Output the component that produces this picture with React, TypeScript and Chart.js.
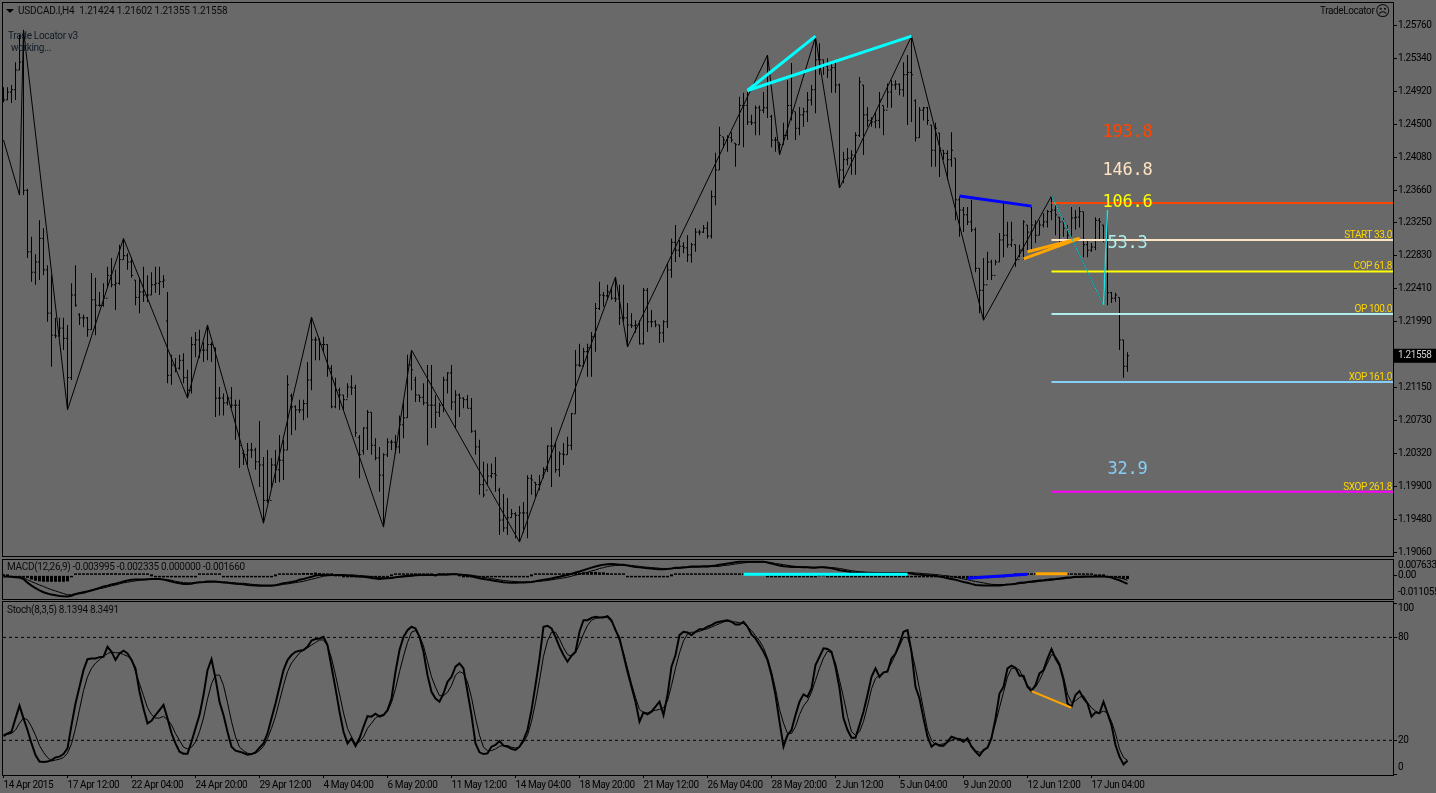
import { useEffect, useRef } from "react";
import { Chart, registerables } from "chart.js";

Chart.register(...registerables);

const highs = [
  1.2497,1.2497,1.2500,1.2529,1.2564,1.2570,1.2368,1.2307,1.2285,1.2328,
  1.2318,1.2271,1.2258,1.2204,1.2204,1.2204,1.2195,1.2248,1.2271,1.2210,
  1.2208,1.2205,1.2261,1.2255,1.2237,1.2248,1.2269,1.2280,1.2265,1.2297,
  1.2305,1.2286,1.2281,1.2252,1.2255,1.2269,1.2258,1.2262,1.2269,1.2269,
  1.2258,1.2237,1.2157,1.2153,1.2157,1.2159,1.2138,1.2180,1.2186,1.2189,
  1.2173,1.2195,1.2173,1.2166,1.2116,1.2108,1.2106,1.2116,1.2100,1.2100,
  1.2036,1.2045,1.2045,1.2039,1.2073,1.2027,1.2036,1.2026,1.2036,1.2055,
  1.2049,1.2131,1.2108,1.2093,1.2100,1.2100,1.2148,1.2204,1.2180,1.2178,
  1.2180,1.2170,1.2144,1.2128,1.2115,1.2106,1.2121,1.2131,1.2119,1.2055,
  1.2065,1.2087,1.2084,1.2051,1.2040,1.2032,1.2051,1.2049,1.2055,1.2080,
  1.2096,1.2157,1.2163,1.2129,1.2106,1.2121,1.2144,1.2144,1.2106,1.2096,
  1.2129,1.2135,1.2144,1.2112,1.2108,1.2103,1.2106,1.2102,1.2061,1.2049,
  1.2021,1.2019,1.2019,1.2027,1.1988,1.1980,1.1975,1.1961,1.1957,1.1965,
  1.1970,1.2004,1.2005,1.1995,1.2004,1.2014,1.2042,1.2065,1.2045,1.2034,
  1.2045,1.2053,1.2083,1.2163,1.2171,1.2166,1.2171,1.2186,1.2223,1.2250,
  1.2237,1.2246,1.2243,1.2256,1.2246,1.2246,1.2223,1.2210,1.2201,1.2201,
  1.2242,1.2242,1.2214,1.2201,1.2195,1.2201,1.2274,1.2305,1.2322,1.2303,
  1.2300,1.2309,1.2299,1.2318,1.2316,1.2322,1.2326,1.2366,1.2414,1.2447,
  1.2434,1.2436,1.2440,1.2426,1.2485,1.2490,1.2491,1.2462,1.2474,1.2474,
  1.2491,1.2538,1.2462,1.2434,1.2427,1.2452,1.2506,1.2528,1.2466,1.2472,
  1.2471,1.2491,1.2500,1.2561,1.2553,1.2532,1.2534,1.2528,1.2529,1.2502,
  1.2415,1.2420,1.2417,1.2440,1.2510,1.2500,1.2472,1.2459,1.2466,1.2491,
  1.2474,1.2502,1.2506,1.2506,1.2502,1.2529,1.2538,1.2562,1.2482,1.2472,
  1.2472,1.2472,1.2449,1.2452,1.2439,1.2417,1.2417,1.2440,1.2407,1.2358,
  1.2345,1.2345,1.2354,1.2319,1.2267,1.2280,1.2288,1.2278,1.2278,1.2312,
  1.2350,1.2326,1.2326,1.2297,1.2297,1.2328,1.2322,1.2345,1.2328,1.2328,
  1.2337,1.2341,1.2359,1.2350,1.2332,1.2331,1.2322,1.2345,1.2341,1.2345,
  1.2339,1.2303,1.2299,1.2332,1.2331,1.2322,1.2341,1.2237,1.2236,1.2230,
  1.2176,1.21602,
];
const lows = [
  1.2478,1.2481,1.2477,1.2481,1.2519,1.2360,1.2280,1.2250,1.2246,1.2252,
  1.2258,1.2199,1.2142,1.2178,1.2180,1.2163,1.2087,1.2125,1.2218,1.2195,
  1.2192,1.2180,1.2189,1.2182,1.2218,1.2218,1.2242,1.2243,1.2214,1.2246,
  1.2278,1.2265,1.2255,1.2220,1.2210,1.2224,1.2224,1.2233,1.2236,1.2233,
  1.2242,1.2121,1.2119,1.2135,1.2138,1.2121,1.2102,1.2108,1.2154,1.2153,
  1.2148,1.2150,1.2148,1.2078,1.2080,1.2080,1.2093,1.2089,1.2049,1.2013,
  1.2017,1.2017,1.2026,1.2011,1.1989,1.1943,1.1969,1.1988,1.1994,1.1995,
  1.1998,1.2036,1.2055,1.2061,1.2083,1.2074,1.2077,1.2112,1.2150,1.2150,
  1.2161,1.2129,1.2089,1.2089,1.2087,1.2087,1.2102,1.2106,1.2053,1.2000,
  1.2030,1.2036,1.2030,1.2023,1.1983,1.1941,1.2027,1.2036,1.2032,1.2032,
  1.2051,1.2077,1.2112,1.2097,1.2097,1.2093,1.2042,1.2064,1.2064,1.2078,
  1.2084,1.2108,1.2087,1.2064,1.2078,1.2089,1.2089,1.2058,1.2030,1.1979,
  1.1976,1.1992,1.2000,1.1983,1.1928,1.1932,1.1928,1.1950,1.1924,1.1919,
  1.1931,1.1924,1.1979,1.1976,1.1985,1.2000,1.2008,1.1989,1.2007,1.2002,
  1.2017,1.2030,1.2036,1.2082,1.2142,1.2142,1.2129,1.2129,1.2161,1.2214,
  1.2218,1.2227,1.2227,1.2224,1.2195,1.2199,1.2167,1.2191,1.2185,1.2170,
  1.2170,1.2186,1.2192,1.2192,1.2172,1.2173,1.2191,1.2255,1.2275,1.2281,
  1.2286,1.2275,1.2274,1.2288,1.2309,1.2312,1.2305,1.2305,1.2347,1.2392,
  1.2420,1.2415,1.2427,1.2396,1.2424,1.2421,1.2449,1.2449,1.2436,1.2436,
  1.2464,1.2458,1.2421,1.2415,1.2411,1.2424,1.2430,1.2455,1.2430,1.2436,
  1.2447,1.2453,1.2474,1.2464,1.2513,1.2513,1.2509,1.2490,1.2490,1.2369,
  1.2375,1.2398,1.2386,1.2386,1.2434,1.2411,1.2447,1.2447,1.2445,1.2445,
  1.2436,1.2471,1.2471,1.2494,1.2487,1.2485,1.2449,1.2453,1.2428,1.2433,
  1.2455,1.2449,1.2396,1.2396,1.2383,1.2405,1.2379,1.2396,1.2328,1.2307,
  1.2313,1.2322,1.2313,1.2262,1.2210,1.2201,1.2252,1.2252,1.2271,1.2275,
  1.2281,1.2293,1.2294,1.2269,1.2281,1.2278,1.2290,1.2290,1.2299,1.2309,
  1.2319,1.2319,1.2328,1.2309,1.2294,1.2307,1.2300,1.2300,1.2316,1.2319,
  1.2281,1.2281,1.2288,1.2290,1.2303,1.2300,1.2220,1.2223,1.2224,1.2163,
  1.2128,1.21355,
];
const closes = [
  1.2481,1.2491,1.2494,1.2519,1.2529,1.2366,1.2288,1.2262,1.2275,1.2305,
  1.2265,1.2210,1.2182,1.2181,1.2191,1.2178,1.2128,1.2233,1.2220,1.2204,
  1.2204,1.2189,1.2227,1.2220,1.2220,1.2229,1.2258,1.2246,1.2248,1.2278,
  1.2283,1.2275,1.2258,1.2230,1.2237,1.2233,1.2233,1.2246,1.2248,1.2250,
  1.2252,1.2131,1.2144,1.2140,1.2150,1.2128,1.2112,1.2170,1.2176,1.2163,
  1.2163,1.2170,1.2170,1.2102,1.2102,1.2096,1.2102,1.2093,1.2093,1.2042,
  1.2030,1.2036,1.2036,1.2021,1.2017,1.1972,1.1972,1.2017,1.2011,1.2023,
  1.2036,1.2119,1.2091,1.2087,1.2087,1.2095,1.2125,1.2176,1.2176,1.2170,
  1.2170,1.2140,1.2091,1.2112,1.2106,1.2100,1.2116,1.2115,1.2058,1.2030,
  1.2064,1.2084,1.2042,1.2026,1.2004,1.2030,1.2046,1.2046,1.2040,1.2068,
  1.2077,1.2144,1.2138,1.2106,1.2103,1.2096,1.2093,1.2093,1.2084,1.2093,
  1.2125,1.2134,1.2097,1.2106,1.2102,1.2100,1.2089,1.2060,1.2040,1.1992,
  1.1979,1.2003,1.2006,1.2004,1.1947,1.1937,1.1950,1.1955,1.1953,1.1956,
  1.1956,1.2000,1.1998,1.1992,1.1995,1.2011,1.2041,1.2041,1.2011,1.2031,
  1.2030,1.2042,1.2082,1.2144,1.2143,1.2161,1.2166,1.2180,1.2216,1.2233,
  1.2232,1.2237,1.2229,1.2228,1.2204,1.2204,1.2195,1.2194,1.2195,1.2171,
  1.2239,1.2199,1.2199,1.2195,1.2185,1.2199,1.2265,1.2300,1.2290,1.2295,
  1.2293,1.2284,1.2297,1.2313,1.2313,1.2318,1.2308,1.2358,1.2392,1.2436,
  1.2430,1.2433,1.2430,1.2424,1.2474,1.2474,1.2453,1.2452,1.2471,1.2468,
  1.2471,1.2513,1.2430,1.2430,1.2424,1.2436,1.2474,1.2468,1.2445,1.2462,
  1.2466,1.2481,1.2494,1.2532,1.2532,1.2524,1.2519,1.2522,1.2500,1.2392,
  1.2405,1.2407,1.2411,1.2436,1.2504,1.2462,1.2455,1.2453,1.2455,1.2481,
  1.2468,1.2491,1.2500,1.2501,1.2494,1.2513,1.2516,1.2513,1.2433,1.2468,
  1.2471,1.2455,1.2417,1.2445,1.2420,1.2413,1.2405,1.2417,1.2354,1.2341,
  1.2335,1.2326,1.2316,1.2267,1.2239,1.2246,1.2275,1.2258,1.2275,1.2303,
  1.2309,1.2297,1.2303,1.2278,1.2290,1.2326,1.2313,1.2322,1.2309,1.2322,
  1.2326,1.2339,1.2341,1.2335,1.2326,1.2318,1.2309,1.2331,1.2332,1.2339,
  1.2297,1.2290,1.2294,1.2328,1.2326,1.2303,1.2236,1.2229,1.2233,1.2176,
  1.21424,1.21558,
];
const opens = [
  1.2490,1.2481,1.2491,1.2494,1.2519,1.2529,1.2366,1.2288,1.2262,1.2275,
  1.2305,1.2265,1.2210,1.2182,1.2181,1.2191,1.2178,1.2128,1.2233,1.2208,
  1.2204,1.2204,1.2189,1.2227,1.2220,1.2220,1.2229,1.2258,1.2246,1.2248,
  1.2278,1.2283,1.2275,1.2252,1.2230,1.2237,1.2233,1.2233,1.2246,1.2248,
  1.2250,1.2200,1.2131,1.2144,1.2140,1.2150,1.2128,1.2112,1.2170,1.2176,
  1.2163,1.2163,1.2170,1.2166,1.2102,1.2102,1.2096,1.2102,1.2093,1.2093,
  1.2032,1.2030,1.2036,1.2036,1.2021,1.2017,1.1972,1.1972,1.2017,1.2011,
  1.2023,1.2036,1.2105,1.2091,1.2087,1.2087,1.2095,1.2125,1.2176,1.2176,
  1.2170,1.2170,1.2140,1.2091,1.2112,1.2106,1.2100,1.2116,1.2115,1.2052,
  1.2035,1.2064,1.2084,1.2042,1.2026,1.2004,1.2030,1.2046,1.2046,1.2040,
  1.2068,1.2077,1.2144,1.2125,1.2106,1.2103,1.2096,1.2093,1.2093,1.2084,
  1.2093,1.2125,1.2134,1.2097,1.2106,1.2102,1.2100,1.2089,1.2060,1.2040,
  1.1992,1.1985,1.2003,1.2006,1.1985,1.1947,1.1937,1.1950,1.1955,1.1953,
  1.1956,1.1956,1.2000,1.1995,1.1992,1.2004,1.2011,1.2041,1.2041,1.2011,
  1.2031,1.2030,1.2042,1.2082,1.2144,1.2143,1.2161,1.2166,1.2180,1.2216,
  1.2233,1.2232,1.2237,1.2229,1.2228,1.2204,1.2204,1.2195,1.2194,1.2195,
  1.2171,1.2239,1.2199,1.2199,1.2195,1.2185,1.2199,1.2265,1.2300,1.2290,
  1.2295,1.2293,1.2284,1.2297,1.2313,1.2313,1.2318,1.2308,1.2358,1.2392,
  1.2434,1.2430,1.2433,1.2426,1.2424,1.2474,1.2474,1.2453,1.2452,1.2471,
  1.2468,1.2471,1.2460,1.2430,1.2427,1.2424,1.2436,1.2474,1.2466,1.2445,
  1.2462,1.2466,1.2481,1.2494,1.2532,1.2532,1.2524,1.2519,1.2522,1.2500,
  1.2392,1.2405,1.2407,1.2411,1.2436,1.2500,1.2462,1.2455,1.2453,1.2455,
  1.2474,1.2468,1.2491,1.2500,1.2501,1.2494,1.2513,1.2516,1.2480,1.2433,
  1.2468,1.2471,1.2449,1.2417,1.2439,1.2417,1.2413,1.2405,1.2407,1.2354,
  1.2341,1.2335,1.2326,1.2316,1.2267,1.2239,1.2246,1.2275,1.2258,1.2275,
  1.2303,1.2309,1.2297,1.2297,1.2278,1.2290,1.2322,1.2313,1.2322,1.2309,
  1.2322,1.2326,1.2339,1.2341,1.2332,1.2326,1.2318,1.2309,1.2331,1.2332,
  1.2339,1.2297,1.2290,1.2294,1.2328,1.2322,1.2303,1.2236,1.2229,1.2230,
  1.2176,1.21424,
];

const zigzagX = [0,4,5,16,30,46,51,65,77,95,102,129,153,156,191,194,203,209,227,245,262,275,276];
const zigzagY = [1.2430,1.2360,1.2570,1.2087,1.2305,1.2102,1.2195,1.1943,1.2205,1.1938,1.2163,1.1919,1.2256,1.2167,1.2538,1.2411,1.2561,1.2369,1.2562,1.2201,1.2359,1.2220,1.2341];

const priceTicks = [1.2576,1.2534,1.2492,1.245,1.2408,1.2366,1.2325,1.2283,1.2241,1.2199,1.21558,1.2115,1.2073,1.2032,1.199,1.1948,1.1906];
const lastClose = 1.21558;

const fibNames = ["", "START 33.0", "COP 61.8", "OP 100.0", "XOP 161.0", "SXOP 261.8"];
const fibPrices = [1.2350,1.2303,1.2263,1.2209,1.21225,1.1983];
const fibColors = ["#FF4500","#FFE4C4","#FFFF00","#AFEEEE","#87CEFA","#FF00FF"];
const bigLabels = ["193.8","146.8","106.6","53.3","32.9"];
const bigPrices = [1.2439,1.2391,1.2351,1.2298,1.2011];
const bigColors = ["#FF4500","#FFE4C4","#FFFF00","#AFEEEE","#87CEFA"];

const macdMain = [
  -.0006,-.0006,-.0007,-.0009,-.0010,-.0017,-.0034,-.0048,-.0060,-.0070,
  -.0079,-.0085,-.0090,-.0093,-.0096,-.0098,-.0099,-.0095,-.0088,-.0084,
  -.0081,-.0076,-.0071,-.0065,-.0059,-.0052,-.0048,-.0043,-.0039,-.0034,
  -.0029,-.0024,-.0021,-.0020,-.0020,-.0020,-.0018,-.0017,-.0017,-.0017,
  -.0020,-.0024,-.0029,-.0034,-.0037,-.0040,-.0040,-.0039,-.0035,-.0032,
  -.0031,-.0029,-.0029,-.0029,-.0031,-.0034,-.0035,-.0037,-.0039,-.0040,
  -.0042,-.0045,-.0046,-.0048,-.0049,-.0049,-.0049,-.0049,-.0046,-.0042,
  -.0037,-.0034,-.0031,-.0028,-.0021,-.0017,-.0012,-.0007,-.0001,.0002,
  .0002,.0002,.0002,.0001,.0001,.0001,-.0001,-.0002,-.0004,-.0006,
  -.0007,-.0009,-.0012,-.0015,-.0017,-.0015,-.0014,-.0012,-.0009,-.0006,
  -.0004,-.0002,-.0001,.0001,.0001,.0002,.0002,.0002,.0002,.0004,
  .0004,.0004,.0005,.0005,.0004,.0002,-.0001,-.0004,-.0009,-.0014,
  -.0017,-.0020,-.0023,-.0026,-.0029,-.0032,-.0034,-.0035,-.0035,-.0034,
  -.0034,-.0032,-.0031,-.0028,-.0024,-.0021,-.0018,-.0015,-.0010,-.0007,
  -.0002,.0002,.0007,.0013,.0018,.0024,.0030,.0036,.0041,.0046,
  .0050,.0052,.0053,.0052,.0050,.0049,.0046,.0042,.0039,.0038,
  .0035,.0033,.0032,.0030,.0029,.0029,.0030,.0032,.0035,.0036,
  .0038,.0039,.0041,.0041,.0041,.0042,.0042,.0044,.0046,.0049,
  .0052,.0055,.0058,.0061,.0063,.0064,.0064,.0064,.0064,.0064,
  .0064,.0060,.0055,.0050,.0046,.0042,.0041,.0039,.0039,.0039,
  .0038,.0038,.0036,.0036,.0038,.0038,.0036,.0033,.0029,.0024,
  .0021,.0018,.0014,.0013,.0011,.0011,.0010,.0010,.0010,.0010,
  .0010,.0010,.0010,.0010,.0010,.0011,.0011,.0008,.0005,.0004,
  .0002,.0001,-.0001,-.0002,-.0006,-.0009,-.0014,-.0017,-.0021,-.0026,
  -.0031,-.0035,-.0040,-.0045,-.0046,-.0048,-.0048,-.0048,-.0048,-.0048,
  -.0045,-.0043,-.0042,-.0039,-.0035,-.0034,-.0031,-.0029,-.0026,-.0024,
  -.0023,-.0020,-.0018,-.0017,-.0015,-.0012,-.0010,-.0009,-.0007,-.0007,
  -.0006,-.0006,-.0006,-.0006,-.0006,-.0006,-.0007,-.0010,-.0017,-.0023,
  -.0032,-.0040,
];
const macdSignal = [
  -.0006,-.0006,-.0006,-.0006,-.0006,-.0010,-.0021,-.0029,-.0037,-.0045,
  -.0052,-.0060,-.0067,-.0073,-.0079,-.0085,-.0091,-.0090,-.0085,-.0081,
  -.0076,-.0073,-.0068,-.0065,-.0062,-.0059,-.0054,-.0049,-.0045,-.0040,
  -.0035,-.0032,-.0029,-.0026,-.0023,-.0021,-.0020,-.0018,-.0017,-.0017,
  -.0018,-.0020,-.0023,-.0028,-.0031,-.0034,-.0035,-.0035,-.0035,-.0034,
  -.0034,-.0032,-.0032,-.0031,-.0031,-.0031,-.0032,-.0034,-.0035,-.0037,
  -.0037,-.0039,-.0042,-.0043,-.0045,-.0046,-.0046,-.0046,-.0046,-.0045,
  -.0042,-.0040,-.0037,-.0034,-.0031,-.0028,-.0023,-.0018,-.0014,-.0009,
  -.0004,-.0002,-.0001,.0001,.0001,.0002,.0002,.0002,.0001,-.0001,
  -.0002,-.0004,-.0006,-.0009,-.0010,-.0012,-.0012,-.0012,-.0010,-.0009,
  -.0007,-.0006,-.0004,-.0002,-.0001,-.0001,.0001,.0001,.0002,.0002,
  .0002,.0002,.0004,.0004,.0004,.0004,.0002,.0001,-.0002,-.0006,
  -.0009,-.0012,-.0015,-.0018,-.0021,-.0024,-.0026,-.0028,-.0029,-.0031,
  -.0031,-.0031,-.0031,-.0029,-.0028,-.0026,-.0024,-.0021,-.0018,-.0015,
  -.0012,-.0009,-.0004,.0001,.0005,.0010,.0014,.0021,.0025,.0032,
  .0036,.0041,.0044,.0046,.0047,.0047,.0047,.0046,.0044,.0042,
  .0039,.0038,.0036,.0035,.0033,.0032,.0032,.0032,.0032,.0033,
  .0035,.0036,.0038,.0038,.0039,.0039,.0039,.0041,.0041,.0042,
  .0046,.0047,.0050,.0053,.0055,.0058,.0060,.0061,.0061,.0062,
  .0062,.0061,.0060,.0055,.0053,.0050,.0047,.0044,.0042,.0041,
  .0039,.0039,.0038,.0038,.0038,.0038,.0038,.0036,.0035,.0032,
  .0029,.0025,.0022,.0019,.0017,.0016,.0014,.0014,.0013,.0013,
  .0013,.0013,.0013,.0013,.0013,.0013,.0013,.0013,.0011,.0010,
  .0008,.0007,.0005,.0004,.0002,-.0001,-.0002,-.0006,-.0009,-.0012,
  -.0017,-.0020,-.0025,-.0029,-.0032,-.0035,-.0039,-.0042,-.0043,-.0043,
  -.0043,-.0043,-.0042,-.0040,-.0039,-.0037,-.0034,-.0032,-.0031,-.0028,
  -.0026,-.0025,-.0023,-.0020,-.0018,-.0017,-.0014,-.0012,-.0010,-.0009,
  -.0009,-.0007,-.0007,-.0006,-.0006,-.0006,-.0006,-.0007,-.0009,-.0012,
  -.0017,-.0023,
];
const macdHist = [
  0,0,-.0002,-.0003,-.0005,-.0008,-.0012,-.0020,-.0025,-.0028,
  -.0030,-.0030,-.0030,-.0030,-.0030,-.0030,-.0028,-.0003,.0001,.0003,
  .0004,.0005,.0006,.0008,.0009,.0010,.0010,.0010,.0010,.0009,
  .0008,.0007,.0006,.0005,.0003,.0002,.0001,0,-.0001,-.0002,
  -.0003,-.0005,-.0007,-.0008,-.0008,-.0006,-.0005,-.0003,-.0001,.0001,
  .0003,.0003,.0003,.0002,.0001,-.0003,-.0003,-.0003,-.0003,-.0003,
  -.0004,-.0006,-.0005,-.0005,-.0005,-.0003,-.0003,-.0002,0,.0003,
  .0005,.0006,.0006,.0007,.0009,.0011,.0011,.0011,.0013,.0011,
  .0006,.0005,.0003,0,0,-.0002,-.0003,-.0005,-.0005,-.0005,
  -.0005,-.0005,-.0006,-.0006,-.0006,-.0003,-.0002,0,.0002,.0003,
  .0003,.0003,.0003,.0003,.0002,.0003,.0002,.0002,0,.0002,
  .0002,.0002,.0002,.0002,0,-.0002,-.0003,-.0005,-.0006,-.0008,
  -.0008,-.0008,-.0008,-.0008,-.0008,-.0008,-.0008,-.0008,-.0006,-.0003,
  -.0003,-.0002,0,.0002,.0003,.0005,.0006,.0006,.0008,.0008,
  .0009,.0011,.0011,.0012,.0012,.0014,.0016,.0016,.0016,.0014,
  .0014,.0011,.0009,.0006,.0003,.0002,-.0002,-.0003,-.0005,-.0005,
  -.0005,-.0005,-.0005,-.0005,-.0005,-.0003,-.0002,0,.0003,.0003,
  .0003,.0003,.0003,.0003,.0002,.0003,.0003,.0003,.0005,.0006,
  .0006,.0008,.0008,.0008,.0006,.0006,.0005,.0003,.0003,.0002,
  .0002,-.0002,-.0005,-.0006,-.0008,-.0008,-.0006,-.0005,-.0003,-.0002,
  -.0002,-.0002,-.0002,-.0002,0,0,-.0002,-.0003,-.0006,-.0008,
  -.0008,-.0008,-.0008,-.0006,-.0006,-.0005,-.0005,-.0005,-.0003,-.0003,
  -.0003,-.0003,-.0003,-.0003,-.0003,-.0002,-.0002,-.0003,-.0006,-.0006,
  -.0006,-.0006,-.0006,-.0006,-.0008,-.0008,-.0011,-.0011,-.0012,-.0014,
  -.0014,-.0016,-.0016,-.0016,-.0014,-.0012,-.0009,-.0006,-.0005,-.0005,
  -.0002,0,0,.0002,.0003,.0003,.0003,.0003,.0005,.0003,
  .0003,.0005,.0005,.0003,.0003,.0005,.0003,.0003,.0003,.0002,
  .0003,.0002,.0002,0,0,0,-.0002,-.0003,-.0008,-.0011,
  -.0016,-.0017,
];

const stochK = [
  22.5,24,25,32.8,40.2,32.8,26,18.2,11.4,7.6,7.4,7.6,8.5,10,10.5,12,15.3,28.9,41.5,51.2,
  60.9,67.3,67.7,67.7,68.5,68.7,74.5,71.6,66.8,70.6,72.2,70.6,66.8,61.9,48.3,38.6,29.9,31.4,34.7,37.6,
  40.6,32.8,24.1,18.2,13.4,12.2,12.2,19.2,27,34.7,46.4,60.9,67.3,56.1,42.5,34.7,25,16.3,14,13.4,
  12.6,11.6,12,13,15.7,18.2,24,32.8,41.5,51.2,60.9,66.8,69.7,71.6,72.2,72.6,74.5,78.2,79,79.4,
  80.3,75.5,62.9,50.3,36.7,25,18.2,21.2,16.7,21.2,27.9,34.1,33.8,35.5,33.8,34.7,37.6,44.4,60,72.6,
  80.3,84.2,86.2,85.2,80.3,71.6,58,48.3,44.4,42.5,47.3,54.1,57,62.9,64.8,61.9,48.3,34.7,18.2,13,
  12,12.4,16.3,17.3,19.6,16.9,16.3,15,14.4,16.3,20.2,26,37.6,52.2,67.7,86.2,86.8,85.2,80.3,74.5,
  69.7,65.8,69.3,71.6,83.3,90,90,91.4,92,91.6,91.6,92.4,90,84.2,79.4,69.7,60,51.2,42.5,30.9,
  36.3,35.1,36.7,39.6,42.5,34.7,46.4,62.9,69.7,81.3,83.3,82.9,81.3,83.3,84.8,84.8,86.2,87.1,88.5,89.1,
  89.5,90,89.1,87.5,87.5,89.1,86.2,81.7,79.4,75.5,71.6,66.8,58,46.4,30.9,16.3,23.1,26,34.7,42.5,
  46.8,45.4,50.3,63.8,68.7,73.6,73.2,71.6,62.9,50.3,32.8,26,21.5,21.5,28.9,36.7,46.4,57,61.9,57,
  59.6,60,67.7,70.6,76.5,83.3,84.2,71.6,51.2,44.4,32.8,22.1,16.3,18.2,16.9,16.9,19.2,22.1,21.2,20.6,
  19.2,21.2,16.3,13.4,11,14.4,15.7,21.2,32.8,47.3,51.2,61.9,63.5,62.3,57.6,57.6,51.2,48.7,52.2,59,
  60.9,67.7,73.2,67.7,63.8,55.1,41.5,39.6,46.4,48.7,44.4,41.5,33.8,36.3,35.7,42.5,35.7,28.9,17.3,10.5,
  6,8.1,
];
const stochD = [
  23.5,23.5,24,26,30,33,32,28,23,17,13,10,8,8.5,9,10,12.5,18,27,
  38,49,57,62,65,67,69,70.5,71.5,71,71,70,69,67.5,60,53,46,39,35,33,
  33,34,32,29,24,20,16,15,16,19,25,33,44,53,58,58,52,42,31,22,
  16,14,12.5,12,12.5,14,16.5,21,27,34,43,52,60,65,68,71,72.5,74,75.5,77,
  78.5,78.5,75,68,58,47,36,27,22,18,19,22,27,30,33,34.5,35,37,42,50,
  60,69,77,83,84,81,75,66,57,51,46,46,48,52,58,60,59,54,45,33,
  23,16,14,14,15,16.5,17,17,16,15.5,16,19,23,31,42,55,69,78,83,83,
  79,74,70,69,71,76,82,87,90,91,91.5,92,91.5,89,85,78,71,62,53,45,
  38,36,36,37,37.5,38,39,43,52,62,71,78,82,83,83,83.5,84.5,85,86,87,
  88,89,89.5,89,89,88.5,88,86,84,81,78,74,68,60,50,38,30,24,24,28,
  35,40,43,48,55,62,68,72,71,65,55,45,34,25,23,25,31,40,50,56,
  58,59,61,65,70,75,80,80,72,62,50,38,26,20,17.5,17.5,18,19,20,21,
  21,20.5,19.5,17,14,13,13.5,16,22,30,39,48,57,62,62,61,56,52,50,51,
  55,60,65,70,69,65,57,47,42,43,45,46,42,39,37,36,37,36,31,24,
  15,10,8.35,
];
const stochLevels = [80, 20];

const timeLabels = [
  "14 Apr 2015","17 Apr 12:00","22 Apr 04:00","24 Apr 20:00","29 Apr 12:00","4 May 04:00",
  "6 May 20:00","11 May 12:00","14 May 04:00","18 May 20:00","21 May 12:00","26 May 04:00",
  "28 May 20:00","2 Jun 12:00","5 Jun 04:00","9 Jun 20:00","12 Jun 12:00","17 Jun 04:00",
];

const BG = "#696969";
const FONT = "Roboto";
const X_MIN = -0.125;
const X_MAX = 347.375;

const seg = (xs: number[], ys: number[], color: string, width: number, order = 1) => ({
  type: "line" as const,
  data: xs.map((x, i) => ({ x, y: ys[i] })),
  borderColor: color,
  borderWidth: width,
  pointRadius: 0,
  tension: 0,
  order,
});

const hiddenX = { type: "linear" as const, display: false, min: X_MIN, max: X_MAX, offset: false };

const rightY = (min: number, max: number, ticks: number[], extra: any = {}) => ({
  type: "linear" as const,
  position: "right" as const,
  min,
  max,
  afterFit: (s: any) => {
    s.width = 43;
    s.paddingTop = 0;
    s.paddingBottom = 0;
  },
  afterBuildTicks: (s: any) => { s.ticks = ticks.map((value) => ({ value })); },
  border: { display: false },
  grid: { drawOnChartArea: false, tickLength: 4, color: "#000" },
  ticks: { color: "#000", padding: 1, autoSkip: false, font: { family: FONT, size: 10 }, ...extra },
});

const baseOptions = (scales: any, padding: any) => ({
  responsive: false,
  animation: false as const,
  devicePixelRatio: 1,
  events: [],
  layout: { padding, autoPadding: false },
  plugins: { legend: { display: false }, tooltip: { enabled: false } },
  scales,
});

const tightText = { id: "tightText", beforeDraw: (c: any) => { c.ctx.letterSpacing = "-0.4px"; } };

// text anchored on the price scale: fib names and the big numbers
const priceText = {
  id: "priceText",
  afterDatasetsDraw: (c: any) => {
    const { ctx, chartArea, scales } = c;
    ctx.save();
    ctx.textBaseline = "alphabetic";
    ctx.font = `10px ${FONT}`;
    ctx.fillStyle = "#FFD700";
    ctx.textAlign = "right";
    fibNames.forEach((name, i) => {
      if (name) ctx.fillText(name, chartArea.right - 1, scales.y.getPixelForValue(fibPrices[i]) - 2);
    });
    ctx.font = "17px 'DejaVu Sans Mono'";
    ctx.letterSpacing = "-0.2px";
    ctx.textAlign = "center";
    ctx.textBaseline = "middle";
    bigLabels.forEach((t, i) => {
      ctx.fillStyle = bigColors[i];
      ctx.fillText(t, scales.x.getPixelForValue(281), scales.y.getPixelForValue(bigPrices[i]));
    });
    ctx.restore();
  },
};

// axis labels the terminal pushes inside the pane at its top and bottom
const edgeLabels = (items: { text: string; value: number; dy: number }[]) => ({
  id: "edgeLabels",
  afterDraw: (c: any) => {
    const { ctx, chartArea, scales } = c;
    ctx.save();
    ctx.font = `10px ${FONT}`;
    ctx.fillStyle = "#000";
    ctx.textAlign = "left";
    ctx.textBaseline = "middle";
    items.forEach((it) => {
      ctx.fillText(it.text, chartArea.right + 5, scales.y.getPixelForValue(it.value) + it.dy);
    });
    ctx.restore();
  },
});

const Rule = ({ x, y, w, h }: { x: number; y: number; w: number; h: number }) => (
  <div style={{ position: "absolute", left: x, top: y, width: w, height: h, background: "#000" }} />
);

const Label = ({ x, y, children, style }: any) => (
  <span
    style={{
      position: "absolute",
      left: x,
      top: y,
      fontFamily: FONT,
      fontSize: 10,
      lineHeight: "12px",
      letterSpacing: "-0.3px",
      color: "#0a0a0a",
      whiteSpace: "pre",
      ...style,
    }}
  >
    {children}
  </span>
);

export default function App() {
  const mainRef = useRef<HTMLCanvasElement | null>(null);
  const macdRef = useRef<HTMLCanvasElement | null>(null);
  const stochRef = useRef<HTMLCanvasElement | null>(null);

  useEffect(() => {
    const fibDatasets = fibPrices.map((p, i) => seg([262, X_MAX], [p, p], fibColors[i], 2, 2));

    const main = new Chart(mainRef.current!, {
      type: "bar",
      data: {
        datasets: [
          {
            type: "bar",
            data: highs.map((h, i) => ({ x: i, y: [lows[i], h] })),
            backgroundColor: "#000",
            barThickness: 1,
            inflateAmount: 0,
            order: 6,
          },
          {
            type: "line",
            data: opens.map((y, i) => ({ x: i - 0.2, y })),
            showLine: false,
            pointStyle: "line",
            pointRadius: 0.75,
            pointBorderWidth: 1,
            pointBorderColor: "#000",
            order: 5,
          },
          {
            type: "line",
            data: closes.map((y, i) => ({ x: i + 0.2, y })),
            showLine: false,
            pointStyle: "line",
            pointRadius: 0.75,
            pointBorderWidth: 1,
            pointBorderColor: "#000",
            order: 5,
          },
          seg(zigzagX, zigzagY, "#000", 1, 4),
          ...fibDatasets,
          seg([262, 275], [1.2359, 1.222], "#20C8C8", 1, 1),
          seg([275, 276], [1.222, 1.2341], "#20E0E0", 1.5, 1),
          seg([186, 203], [1.2493, 1.2562], "#00FFFF", 3, 1),
          seg([186, 227], [1.2493, 1.2562], "#00FFFF", 3, 1),
          seg([239, 257], [1.2359, 1.2346], "#0000FF", 3, 1),
          seg([255, 269], [1.2279, 1.2305], "#FFA500", 3, 1),
          seg([256, 269], [1.2288, 1.2305], "#FFA500", 3, 1),
        ] as any,
      },
      options: baseOptions(
        {
          x: hiddenX,
          y: rightY(1.19013, 1.26042, priceTicks, {
            callback: (v: any) => Number(v).toFixed(5),
            showLabelBackdrop: true,
            backdropPadding: { top: 1, bottom: 1, left: 4, right: 5 },
            backdropColor: (ctx: any) => (ctx.tick?.value === lastClose ? "#000" : "rgba(0,0,0,0)"),
            color: (ctx: any) => (ctx.tick?.value === lastClose ? "#d0d0d0" : "#000"),
          }),
        },
        { left: 3, top: 3, right: 0, bottom: 1 }
      ) as any,
      plugins: [tightText, priceText],
    });

    const macd = new Chart(macdRef.current!, {
      type: "bar",
      data: {
        datasets: [
          {
            type: "bar",
            data: macdHist.map((y, i) => ({ x: i, y })),
            backgroundColor: "#000",
            barThickness: 3,
            inflateAmount: 0,
            minBarLength: 2,
            order: 5,
          },
          seg(macdMain.map((_, i) => i), macdMain, "#000", 2, 3),
          seg(macdSignal.map((_, i) => i), macdSignal, "#000", 1, 4),
          seg([185, 226], [0.0005, 0.0005], "#00FFFF", 3, 1),
          seg([241, 256], [-0.0014, 0.0005], "#0000FF", 3, 1),
          seg([258, 266], [0.0007, 0.0007], "#FFA500", 3, 1),
        ] as any,
      },
      options: baseOptions(
        {
          x: hiddenX,
          y: rightY(-0.011055, 0.007633, [0], { callback: () => "0.00" }),
        },
        { left: 3, top: 0, right: 0, bottom: 1 }
      ) as any,
      plugins: [
        tightText,
        edgeLabels([
          { text: "0.007633", value: 0.007633, dy: 6 },
          { text: "-0.011055", value: -0.011055, dy: -7 },
        ]),
      ],
    });

    const stoch = new Chart(stochRef.current!, {
      type: "line",
      data: {
        datasets: [
          ...stochLevels.map((lv) => ({
            ...seg([X_MIN, X_MAX], [lv, lv], "#000", 1, 4),
            borderDash: [3, 3],
          })),
          seg(stochD.map((_, i) => i), stochD, "#000", 1, 3),
          seg(stochK.map((_, i) => i), stochK, "#000", 2, 2),
          seg([257, 267], [48.7, 39], "#FFA500", 2, 1),
        ] as any,
      },
      options: baseOptions(
        {
          x: {
            type: "linear",
            min: X_MIN,
            max: X_MAX,
            position: "bottom",
            afterFit: (s: any) => {
              s.height = 18;
              s.paddingLeft = 0;
              s.paddingRight = 0;
            },
            afterBuildTicks: (s: any) => { s.ticks = timeLabels.map((_, i) => ({ value: i * 16 })); },
            border: { display: false },
            grid: { drawOnChartArea: false, tickLength: 3, color: "#000" },
            ticks: {
              color: "#000",
              padding: 1,
              autoSkip: false,
              maxRotation: 0,
              align: "start",
              font: { family: FONT, size: 10 },
              callback: (v: any) => timeLabels[Math.round(Number(v) / 16)] ?? "",
            },
          },
          y: rightY(-0.2, 101.2, [100, 80, 20, 0], {
            callback: (v: any) => (v === 80 || v === 20 ? String(v) : ""),
          }),
        },
        { left: 3, top: 0, right: 0, bottom: 0 }
      ) as any,
      plugins: [
        tightText,
        edgeLabels([
          { text: "100", value: 100, dy: 5 },
          { text: "0", value: 0, dy: -7 },
        ]),
      ],
    });

    return () => {
      main.destroy();
      macd.destroy();
      stoch.destroy();
    };
  }, []);

  return (
    <div style={{ position: "relative", width: 1436, height: 793, background: BG, overflow: "hidden" }}>
      <style>{"body{margin:0;overflow:hidden}"}</style>

      <Rule x={2} y={2} w={1392} h={1} />
      <Rule x={2} y={556} w={1392} h={1} />
      <Rule x={2} y={559} w={1392} h={1} />
      <Rule x={2} y={599} w={1392} h={1} />
      <Rule x={2} y={601} w={1392} h={1} />
      <Rule x={2} y={775} w={1392} h={1} />
      <Rule x={2} y={2} w={1} h={555} />
      <Rule x={2} y={559} w={1} h={41} />
      <Rule x={2} y={601} w={1} h={175} />
      <Rule x={1393} y={2} w={1} h={555} />
      <Rule x={1393} y={559} w={1} h={41} />
      <Rule x={1393} y={601} w={1} h={175} />

      <canvas ref={mainRef} width={1436} height={557} style={{ position: "absolute", left: 0, top: 0 }} />
      <canvas ref={macdRef} width={1436} height={41} style={{ position: "absolute", left: 0, top: 559 }} />
      <canvas ref={stochRef} width={1436} height={192} style={{ position: "absolute", left: 0, top: 601 }} />

      <div
        style={{
          position: "absolute",
          left: 6,
          top: 9,
          width: 0,
          height: 0,
          borderLeft: "4px solid transparent",
          borderRight: "4px solid transparent",
          borderTop: "4px solid #000",
        }}
      />
      <Label x={18} y={5} style={{ letterSpacing: "-0.15px" }}>USDCAD.I,H4  1.21424 1.21602 1.21355 1.21558</Label>
      <Label x={8} y={30} style={{ color: "#101a26" }}>Trade Locator v3</Label>
      <Label x={11} y={42} style={{ color: "#101a26" }}>working...</Label>
      <Label x={1320} y={5} style={{ letterSpacing: "-0.4px" }}>TradeLocator</Label>
      <Label x={1375} y={3} style={{ fontFamily: "'DejaVu Sans'", fontSize: 15, lineHeight: "16px", letterSpacing: 0 }}>☹</Label>
      <Label x={7} y={561}>MACD(12,26,9) -0.003995 -0.002335 0.000000 -0.001660</Label>
      <Label x={7} y={604}>Stoch(8,3,5) 8.1394 8.3491</Label>
    </div>
  );
}
